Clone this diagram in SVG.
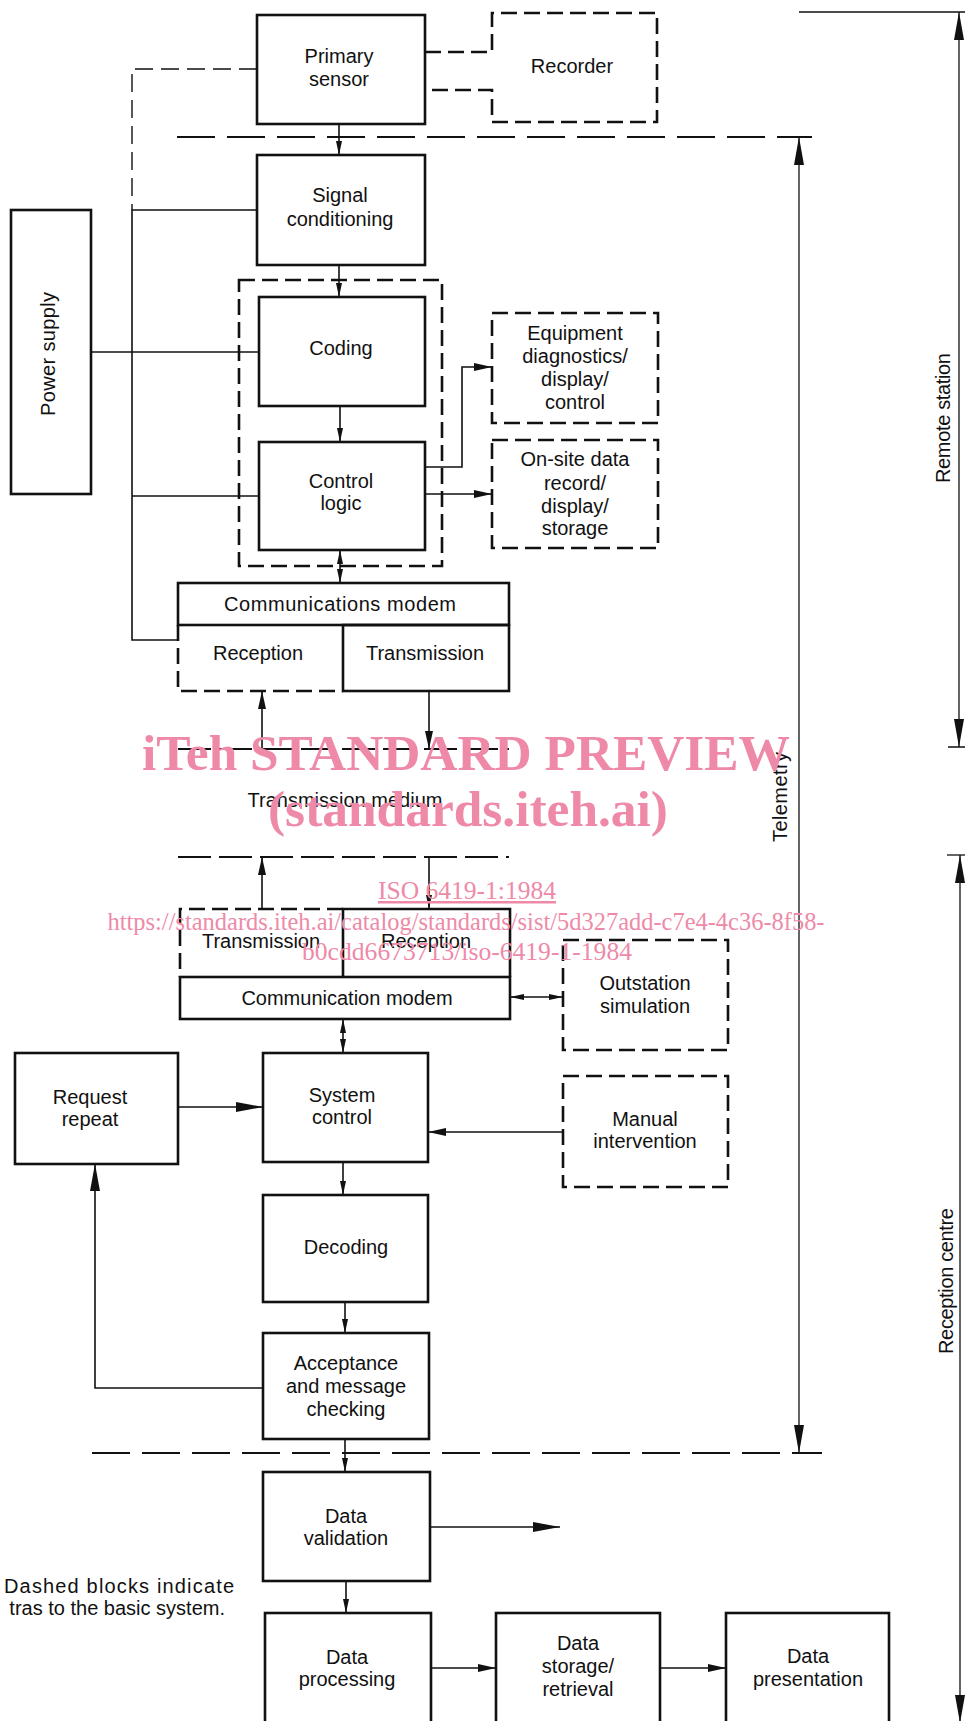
<svg xmlns="http://www.w3.org/2000/svg" width="965" height="1721" viewBox="0 0 965 1721">
<style>
.box{fill:none;stroke:#111;stroke-width:2.6}
.dbox{fill:none;stroke:#111;stroke-width:2.6;stroke-dasharray:16 7}
.ln{fill:none;stroke:#111;stroke-width:1.6}
.dl{fill:none;stroke:#111;stroke-width:1.4;stroke-dasharray:18 8}
.bd{fill:none;stroke:#111;stroke-width:1.8;stroke-dasharray:38 12}
.tm{fill:none;stroke:#111;stroke-width:2;stroke-dasharray:33 8}
.dim{fill:none;stroke:#111;stroke-width:1.3}
text{font-family:"Liberation Sans",Arial,sans-serif;font-size:20px;fill:#111;text-anchor:middle}
.wm{font-family:"Liberation Serif","Times New Roman",serif;fill:#EE8AA8;font-weight:bold;font-size:51px}
.wu{font-family:"Liberation Serif","Times New Roman",serif;fill:#EE8AA8;font-size:25px}
</style>
<defs>
<marker id="as" viewBox="0 0 14 6" refX="14" refY="3" markerWidth="14" markerHeight="6" markerUnits="userSpaceOnUse" orient="auto-start-reverse"><path d="M0,0L14,3L0,6z" fill="#111"/></marker>
<marker id="am" viewBox="0 0 18 8" refX="18" refY="4" markerWidth="18" markerHeight="8" markerUnits="userSpaceOnUse" orient="auto-start-reverse"><path d="M0,0L18,4L0,8z" fill="#111"/></marker>
<marker id="ab" viewBox="0 0 27 10" refX="27" refY="5" markerWidth="27" markerHeight="10" markerUnits="userSpaceOnUse" orient="auto-start-reverse"><path d="M0,0L27,5L0,10z" fill="#111"/></marker>
<marker id="ad" viewBox="0 0 28 10" refX="28" refY="5" markerWidth="28" markerHeight="10" markerUnits="userSpaceOnUse" orient="auto-start-reverse"><path d="M0,0L28,5L0,10z" fill="#111"/></marker>
</defs>

<g id="connectors">
<path class="ln" d="M339,124V155" marker-end="url(#as)"/>
<path class="dl" d="M257,69H132V210"/>
<path class="ln" d="M257,210H132V640H178"/>
<path class="ln" d="M91,352H259"/>
<path class="ln" d="M132,496H259"/>
<path class="ln" d="M339,265V297" marker-end="url(#as)"/>
<path class="ln" d="M340,406V442" marker-end="url(#as)"/>
<path class="ln" d="M340,550V583" marker-start="url(#as)" marker-end="url(#as)"/>
<path class="ln" d="M425,467H462V367H492" marker-end="url(#am)"/>
<path class="ln" d="M425,494H492" marker-end="url(#am)"/>
<path class="ln" d="M262,749V691" marker-end="url(#am)"/>
<path class="ln" d="M429,691V749" marker-end="url(#am)"/>
<path class="ln" d="M262,909V857" marker-end="url(#am)"/>
<path class="ln" d="M429,857V909" marker-end="url(#as)"/>
<path class="ln" d="M343,1019V1053" marker-start="url(#as)" marker-end="url(#as)"/>
<path class="ln" d="M510,997H563" marker-start="url(#as)" marker-end="url(#as)"/>
<path class="ln" d="M178,1107H263" marker-end="url(#ab)"/>
<path class="ln" d="M563,1132H428" marker-end="url(#am)"/>
<path class="ln" d="M343,1162V1195" marker-end="url(#as)"/>
<path class="ln" d="M345,1302V1333" marker-end="url(#as)"/>
<path class="ln" d="M263,1388H95V1164" marker-end="url(#ab)"/>
<path class="ln" d="M345,1439V1472" marker-end="url(#as)"/>
<path class="ln" d="M430,1527H560" marker-end="url(#ab)"/>
<path class="ln" d="M346,1581V1613" marker-end="url(#as)"/>
<path class="ln" d="M431,1668H496" marker-end="url(#am)"/>
<path class="ln" d="M660,1668H726" marker-end="url(#am)"/>
</g>

<g id="boundaries">
<path class="bd" d="M177,137H812"/>
<path class="bd" d="M92,1453H822"/>
<path class="dim" d="M799,137V1453" marker-start="url(#ad)" marker-end="url(#ad)"/>
<path class="dim" d="M799,12H965M948,747H965"/>
<path class="dim" d="M959,12V747" marker-start="url(#ad)" marker-end="url(#ad)"/>
<path class="dim" d="M947,855H965"/>
<path class="dim" d="M960,855V1723" marker-start="url(#ad)" marker-end="url(#ad)"/>
<text transform="translate(787,797) rotate(-90)" textLength="90">Telemetry</text>
<text transform="translate(950,418) rotate(-90)" font-size="19" textLength="130">Remote station</text>
<text transform="translate(953,1281) rotate(-90)" font-size="19" textLength="146">Reception centre</text>
</g>

<g id="primary-sensor"><rect class="box" x="257" y="15" width="168" height="109"/><text x="339" y="63">Primary</text><text x="339" y="86">sensor</text></g>
<g id="recorder"><path class="dbox" d="M425,52H492V13H657V122H492V90H425"/><text x="572" y="73">Recorder</text></g>
<g id="signal-conditioning"><rect class="box" x="257" y="155" width="168" height="110"/><text x="340" y="202">Signal</text><text x="340" y="226">conditioning</text></g>
<g id="power-supply"><rect class="box" x="11" y="210" width="80" height="284"/><text transform="translate(55,354) rotate(-90)" font-size="18" textLength="124">Power supply</text></g>
<g id="coding-enclosure"><rect class="dbox" x="239" y="280" width="203" height="286"/></g>
<g id="coding"><rect class="box" x="259" y="297" width="166" height="109"/><text x="341" y="355">Coding</text></g>
<g id="control-logic"><rect class="box" x="259" y="442" width="166" height="108"/><text x="341" y="488">Control</text><text x="341" y="510">logic</text></g>
<g id="equipment-diagnostics"><rect class="dbox" x="492" y="313" width="166" height="110"/><text x="575" y="340">Equipment</text><text x="575" y="363">diagnostics/</text><text x="575" y="386">display/</text><text x="575" y="409">control</text></g>
<g id="onsite-data"><rect class="dbox" x="492" y="440" width="166" height="108"/><text x="575" y="466">On-site data</text><text x="575" y="490">record/</text><text x="575" y="513">display/</text><text x="575" y="535">storage</text></g>
<g id="communications-modem"><rect class="box" x="178" y="583" width="331" height="42"/><text x="340" y="611" textLength="232">Communications modem</text></g>
<g id="reception-upper"><path class="dbox" d="M178,625V691H343"/><text x="258" y="660">Reception</text></g>
<g id="transmission-upper"><rect class="box" x="343" y="625" width="166" height="66"/><text x="425" y="660">Transmission</text></g>
<g id="transmission-medium"><path class="tm" d="M178,749H509"/><path class="tm" d="M178,857H509"/><text x="345" y="807">Transmission medium</text></g>
<g id="transmission-lower"><path class="dbox" d="M343,909H180V977"/><text x="261" y="948">Transmission</text></g>
<g id="reception-lower"><path class="box" d="M343,977V909H510V977"/><text x="426" y="948">Reception</text></g>
<g id="communication-modem"><rect class="box" x="180" y="977" width="330" height="42"/><text x="347" y="1005">Communication modem</text></g>
<g id="outstation-simulation"><rect class="dbox" x="563" y="940" width="165" height="110"/><text x="645" y="990">Outstation</text><text x="645" y="1013">simulation</text></g>
<g id="request-repeat"><rect class="box" x="15" y="1053" width="163" height="111"/><text x="90" y="1104">Request</text><text x="90" y="1126">repeat</text></g>
<g id="system-control"><rect class="box" x="263" y="1053" width="165" height="109"/><text x="342" y="1102">System</text><text x="342" y="1124">control</text></g>
<g id="manual-intervention"><rect class="dbox" x="563" y="1076" width="165" height="111"/><text x="645" y="1126">Manual</text><text x="645" y="1148">intervention</text></g>
<g id="decoding"><rect class="box" x="263" y="1195" width="165" height="107"/><text x="346" y="1254">Decoding</text></g>
<g id="acceptance"><rect class="box" x="263" y="1333" width="166" height="106"/><text x="346" y="1370">Acceptance</text><text x="346" y="1393">and message</text><text x="346" y="1416">checking</text></g>
<g id="data-validation"><rect class="box" x="263" y="1472" width="167" height="109"/><text x="346" y="1523">Data</text><text x="346" y="1545">validation</text></g>
<g id="data-processing"><rect class="box" x="265" y="1613" width="166" height="120"/><text x="347" y="1664">Data</text><text x="347" y="1686">processing</text></g>
<g id="data-storage"><rect class="box" x="496" y="1613" width="164" height="120"/><text x="578" y="1650">Data</text><text x="578" y="1673">storage/</text><text x="578" y="1696">retrieval</text></g>
<g id="data-presentation"><rect class="box" x="726" y="1613" width="163" height="120"/><text x="808" y="1663">Data</text><text x="808" y="1686">presentation</text></g>

<g id="note">
<text x="4" y="1593" text-anchor="start" style="text-anchor:start" textLength="230" lengthAdjust="spacing">Dashed blocks indicate</text>
<text x="225" y="1615" style="text-anchor:end">tras to the basic system.</text>
</g>

<g id="watermark">
<text class="wm" x="466" y="770" textLength="648" lengthAdjust="spacingAndGlyphs">iTeh STANDARD PREVIEW</text>
<text class="wm" x="468" y="826" textLength="400" lengthAdjust="spacingAndGlyphs">(standards.iteh.ai)</text>
<text class="wu" x="467" y="899" text-decoration="underline" textLength="178" lengthAdjust="spacingAndGlyphs">ISO 6419-1:1984</text>
<text class="wu" x="466" y="930" textLength="717" lengthAdjust="spacingAndGlyphs">https://standards.iteh.ai/catalog/standards/sist/5d327add-c7e4-4c36-8f58-</text>
<text class="wu" x="467" y="960" textLength="330" lengthAdjust="spacingAndGlyphs">b0cdd6673713/iso-6419-1-1984</text>
</g>
</svg>
